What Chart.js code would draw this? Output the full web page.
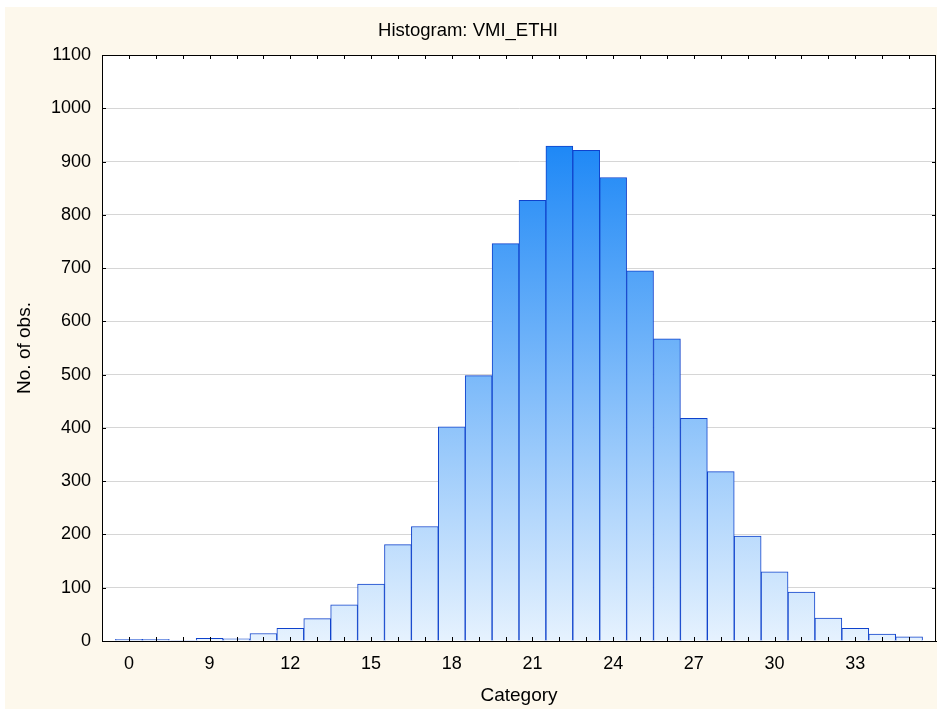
<!DOCTYPE html>
<html>
<head>
<meta charset="utf-8">
<script src="https://cdn.jsdelivr.net/npm/chart.js@4/dist/chart.umd.min.js"></script>
<style>
  body { margin: 0; background: #fff; }
  canvas { display: block; }
</style>
</head>
<body>
<canvas id="chart" width="937" height="709"></canvas>
<script>
const TITLE = "Histogram: VMI_ETHI";
const X_TITLE = "Category";
const Y_TITLE = "No. of obs.";

// one entry per bar
const categories = [0, 7, 8, 9, 10, 11, 12, 13, 14, 15, 16, 17, 18, 19, 20,
  21, 22, 23, 24, 25, 26, 27, 28, 29, 30, 31, 32, 33, 34, 35];
const counts = [3, 3, 1, 5, 4, 14, 24, 42, 68, 107, 181, 215, 402, 498, 746,
  827, 929, 921, 870, 695, 567, 418, 318, 197, 130, 92, 43, 24, 13, 8];
const tickLabels = ["0", "", "", "9", "", "", "12", "", "", "15", "", "", "18", "", "",
  "21", "", "", "24", "", "", "27", "", "", "30", "", "", "33", "", ""];
const yMax = 1100;
const yStep = 100;

const FONT = "'Liberation Sans', Arial, sans-serif";
const CREAM = "#fdf8ec";

let gradCache = null;
function barFill(ctx) {
  const chart = ctx.chart;
  const area = chart.chartArea;
  if (!area) return "#8ec3fb";
  const y = chart.scales.y;
  const key = area.bottom + ":" + area.top;
  if (gradCache && gradCache.key === key) return gradCache.g;
  const g = chart.ctx.createLinearGradient(0, y.getPixelForValue(0), 0, y.getPixelForValue(930));
  g.addColorStop(0, "#e6f2fe");
  g.addColorStop(1, "#1e88f6");
  gradCache = { key, g };
  return g;
}

const frame = {
  id: "frame",
  beforeDraw(chart) {
    const c = chart.ctx, a = chart.chartArea;
    c.save();
    c.fillStyle = "#fff";
    c.fillRect(0, 0, chart.width, chart.height);
    c.fillStyle = CREAM;
    c.fillRect(5, 7, chart.width - 5, chart.height - 7);
    c.fillStyle = "#fff";
    c.fillRect(a.left, a.top, a.right - a.left, a.bottom - a.top);
    c.restore();
  },
  afterDraw(chart) {
    const c = chart.ctx, a = chart.chartArea;
    const x = chart.scales.x, y = chart.scales.y;
    c.save();
    c.strokeStyle = "#000";
    c.lineWidth = 1;
    c.beginPath();
    for (let i = 0; i < counts.length; i++) {
      const px = Math.round(x.getPixelForValue(i)) + 0.5;
      c.moveTo(px, a.bottom); c.lineTo(px, a.bottom - 4);
      c.moveTo(px, a.top); c.lineTo(px, a.top + 4);
    }
    y.ticks.forEach(t => {
      const py = Math.round(y.getPixelForValue(t.value)) + 0.5;
      c.moveTo(a.left, py); c.lineTo(a.left + 4, py);
      c.moveTo(a.right, py); c.lineTo(a.right - 4, py);
    });
    c.stroke();
    c.strokeRect(Math.round(a.left) + 0.5, Math.round(a.top) + 0.5,
      Math.round(a.right - a.left) - 1, Math.round(a.bottom - a.top));
    c.restore();
  }
};

new Chart(document.getElementById("chart"), {
  type: "bar",
  data: {
    datasets: [{
      data: counts.map((v, i) => ({ x: i, y: v })),
      backgroundColor: barFill,
      borderColor: "#0f42cc",
      borderWidth: 1,
      barPercentage: 1,
      categoryPercentage: 1
    }]
  },
  options: {
    responsive: false,
    animation: false,
    devicePixelRatio: 1,
    layout: { padding: { left: 0, right: 1, top: 0, bottom: 0 } },
    plugins: {
      legend: { display: false },
      tooltip: { enabled: false },
      title: {
        display: true,
        text: TITLE,
        color: "#000",
        font: { family: FONT, size: 18.5, weight: "normal" },
        padding: { top: 20, bottom: 12.8 }
      }
    },
    scales: {
      x: {
        type: "linear",
        min: -1,
        max: categories.length,
        offset: false,
        grid: { display: false, offset: false, drawTicks: false },
        border: { display: true, color: "#000" },
        ticks: {
          stepSize: 1,
          autoSkip: false,
          maxRotation: 0,
          padding: 12,
          color: "#000",
          font: { family: FONT, size: 18 },
          callback: v => tickLabels[v] || ""
        },
        title: {
          display: true,
          text: X_TITLE,
          color: "#000",
          font: { family: FONT, size: 19 },
          padding: { top: 0, bottom: 2 }
        },
        afterFit: s => {
          s.height = 68;
          s.paddingLeft = 0;
          s.paddingRight = 0;
        }
      },
      y: {
        min: 0,
        max: yMax,
        grid: { color: "#d6d6d6", drawTicks: false },
        border: { display: true, color: "#000" },
        ticks: {
          stepSize: yStep,
          padding: 11,
          color: "#000",
          font: { family: FONT, size: 18 },
          callback: v => String(v)
        },
        title: {
          display: true,
          text: Y_TITLE,
          color: "#000",
          font: { family: FONT, size: 19 },
          padding: { top: 13, bottom: 0 }
        },
        afterFit: s => { s.width = 102; }
      }
    }
  },
  plugins: [frame]
});
</script>
</body>
</html>
